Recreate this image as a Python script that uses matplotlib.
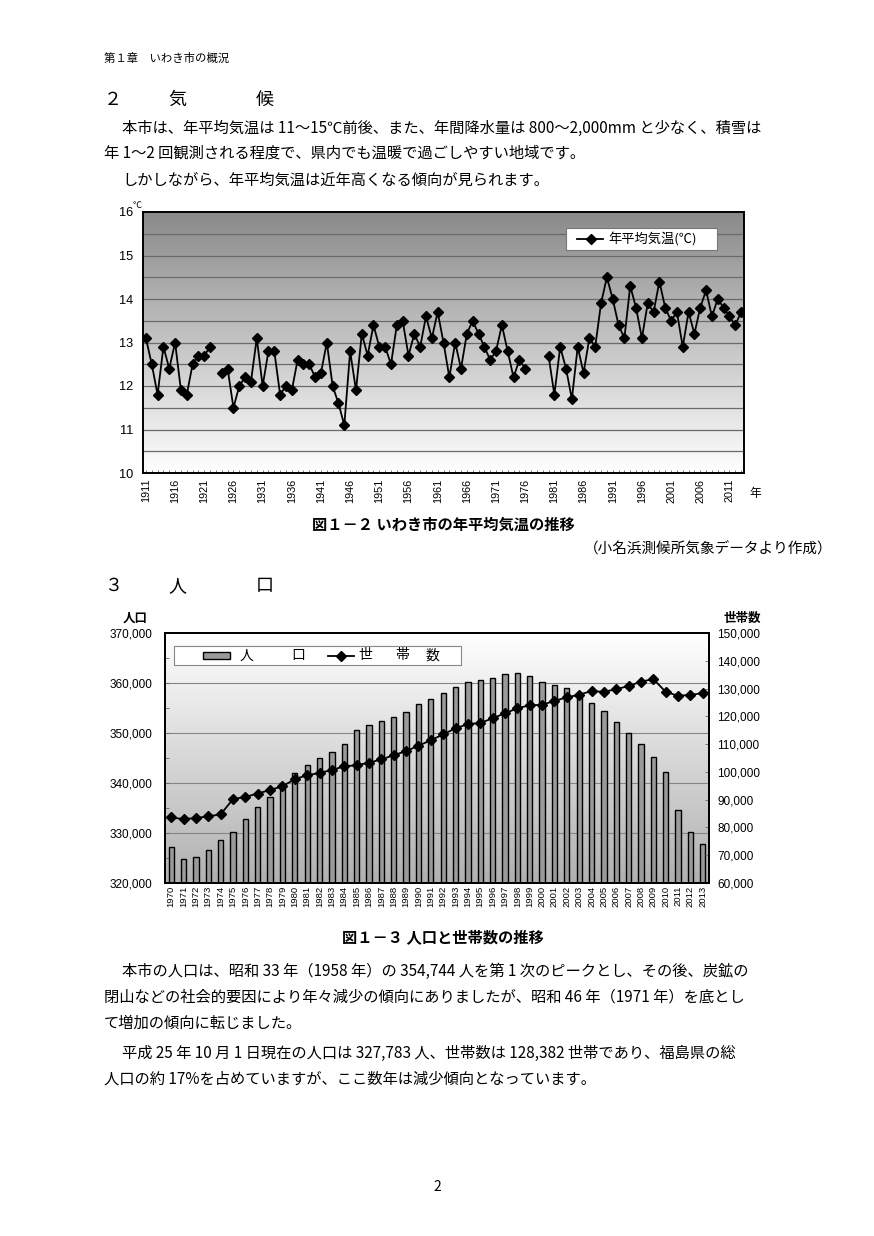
import numpy as np
import matplotlib
matplotlib.use('Agg')
import matplotlib.pyplot as plt
from matplotlib.colors import LinearSegmentedColormap
from matplotlib.lines import Line2D
from matplotlib.patches import Rectangle
from matplotlib.ticker import FuncFormatter, MultipleLocator

plt.rcParams['font.family'] = ['Noto Sans CJK JP', 'DejaVu Sans']
NUMFONT = ['Liberation Sans', 'DejaVu Sans']

# ---------------- data ----------------
temp_years = list(range(1911, 2014))
temp_values = [
    13.1, 12.5, 11.8, 12.9, 12.4, 13.0, 11.9, 11.8, 12.5, 12.7,   # 1911-1920
    12.7, 12.9, None, 12.3, 12.4, 11.5, 12.0, 12.2, 12.1, 13.1,   # 1921-1930
    12.0, 12.8, 12.8, 11.8, 12.0, 11.9, 12.6, 12.5, 12.5, 12.2,   # 1931-1940
    12.3, 13.0, 12.0, 11.6, 11.1, 12.8, 11.9, 13.2, 12.7, 13.4,   # 1941-1950
    12.9, 12.9, 12.5, 13.4, 13.5, 12.7, 13.2, 12.9, 13.6, 13.1,   # 1951-1960
    13.7, 13.0, 12.2, 13.0, 12.4, 13.2, 13.5, 13.2, 12.9, 12.6,   # 1961-1970
    12.8, 13.4, 12.8, 12.2, 12.6, 12.4, None, None, None, 12.7,   # 1971-1980
    11.8, 12.9, 12.4, 11.7, 12.9, 12.3, 13.1, 12.9, 13.9, 14.5,   # 1981-1990
    14.0, 13.4, 13.1, 14.3, 13.8, 13.1, 13.9, 13.7, 14.4, 13.8,   # 1991-2000
    13.5, 13.7, 12.9, 13.7, 13.2, 13.8, 14.2, 13.6, 14.0, 13.8,   # 2001-2010
    13.6, 13.4, 13.7,                                             # 2011-2013
]
temp_xtick_years = list(range(1911, 2012, 5))
temp_yticks = [10, 11, 12, 13, 14, 15, 16]

pop_years = list(range(1970, 2014))
population = [
    327200, 324800, 325200, 326700, 328600, 330300, 332800, 335300, 337300, 338900,
    342100, 343700, 345100, 346300, 347900, 350700, 351600, 352400, 353300, 354300,
    355900, 356800, 358000, 359200, 360200, 360700, 361000, 361800, 362000, 361400,
    360300, 359600, 359100, 358100, 356100, 354500, 352300, 350100, 347800, 345200,
    342200, 334700, 330200, 327783,
]
households = [
    83600, 83000, 83400, 84000, 84700, 90200, 91000, 92200, 93500, 94800,
    97400, 98800, 99600, 100700, 102000, 102400, 103300, 104500, 106000, 107500,
    109400, 111400, 113500, 115700, 117200, 117600, 119300, 121100, 122900, 124000,
    124100, 125600, 126800, 127800, 129100, 128800, 129800, 130900, 132500, 133400,
    128800, 127400, 127700, 128382,
]
pop_ticks = [320000, 330000, 340000, 350000, 360000, 370000]
hh_ticks = list(range(60000, 150001, 10000))

# ---------------- figure ----------------
W, H = 874, 1236
fig = plt.figure(figsize=(W / 100, H / 100), dpi=100)
fig.patch.set_facecolor('white')


def fx(x):
    return x / W


def fy(y):
    return 1 - y / H


def txt(x, y, s, size, ha='left', va='center', weight='normal', family=None, **kw):
    kws = dict(fontsize=size, ha=ha, va=va, weight=weight, **kw)
    if family is not None:
        kws['family'] = family
    fig.text(fx(x), fy(y), s, **kws)


def axes_px(x0, y0, x1, y1):
    return fig.add_axes([fx(x0), fy(y1), (x1 - x0) / W, (y1 - y0) / H])


# ---------------- page text (top) ----------------
txt(104, 58, '第１章　いわき市の概況', 8.2)
txt(104, 100, '２', 13)
txt(168, 100, '気', 13)
txt(256, 100, '候', 13)
txt(122, 128, '本市は、年平均気温は 11～15℃前後、また、年間降水量は 800～2,000mm と少なく、積雪は', 11)
txt(104, 153, '年 1～2 回観測される程度で、県内でも温暖で過ごしやすい地域です。', 11)
txt(122, 180, 'しかしながら、年平均気温は近年高くなる傾向が見られます。', 11)

# ---------------- temperature chart ----------------
ax = axes_px(143, 212, 744, 473)
cmap1 = LinearSegmentedColormap.from_list('g1', ['#ffffff', '#c4c4c4', '#8a8a8a'])
grad = np.linspace(0, 1, 256).reshape(-1, 1)
ax.imshow(grad, extent=[0, 1, 0, 1], transform=ax.transAxes, aspect='auto',
          cmap=cmap1, origin='lower', zorder=0)
for g in np.arange(10.5, 16.0, 0.5):
    ax.axhline(g, color='#6a6a6a', lw=0.9, zorder=1)
tv = np.array([np.nan if v is None else v for v in temp_values], dtype=float)
ax.plot(temp_years, tv, color='black', lw=1.3, marker='D', ms=5.2, zorder=3)
ax.set_xlim(1910.5, 2013.5)
ax.set_ylim(10, 16)
ax.set_yticks(temp_yticks)
ax.set_yticklabels([str(t) for t in temp_yticks], fontsize=9.2, family=NUMFONT)
ax.tick_params(axis='y', length=0, pad=7)
ax.set_xticks(temp_xtick_years)
ax.set_xticklabels([str(y) for y in temp_xtick_years], rotation=90, fontsize=7.8,
                   family=NUMFONT)
ax.xaxis.set_minor_locator(MultipleLocator(1))
ax.tick_params(axis='x', which='both', direction='in', length=2.5, width=0.6,
               color='#666666', pad=4)
for s in ax.spines.values():
    s.set_linewidth(1.4)
    s.set_color('black')
txt(133, 205, '℃', 6.5)
txt(749, 493, '年', 8.5)

# legend (top chart)
fig.add_artist(Rectangle((fx(566), fy(250)), 151 / W, 22 / H, transform=fig.transFigure,
                         facecolor='white', edgecolor='#777777', lw=0.8, zorder=5))
fig.add_artist(Line2D([fx(577), fx(603)], [fy(239), fy(239)], transform=fig.transFigure,
                      color='black', lw=1.3, zorder=6))
fig.add_artist(Line2D([fx(591)], [fy(239)], transform=fig.transFigure, color='black',
                      marker='D', ms=5.2, zorder=6))
txt(608, 239.5, '年平均気温(℃)', 9.5, zorder=6)

txt(443, 525, '図１－２ いわき市の年平均気温の推移', 11, ha='center', weight='bold')
txt(833, 549, '（小名浜測候所気象データより作成）', 10.5, ha='right')

txt(104, 586, '３', 13)
txt(168, 586, '人', 13)
txt(256, 586, '口', 13)

# ---------------- population chart ----------------
ax2 = axes_px(165, 633, 709, 883)
cmap2 = LinearSegmentedColormap.from_list('g2', ['#b0b0b0', '#ffffff'])
ax2.imshow(grad, extent=[0, 1, 0, 1], transform=ax2.transAxes, aspect='auto',
           cmap=cmap2, origin='lower', zorder=0)
for g in pop_ticks[1:-1]:
    ax2.axhline(g, color='#858585', lw=0.8, zorder=1)
ax2.bar(pop_years, population, width=0.42, color='#9a9a9a', edgecolor='black',
        linewidth=1.0, zorder=2)
ax2.set_xlim(1969.5, 2013.5)
ax2.set_ylim(320000, 370000)
ax2.set_yticks(pop_ticks)
ax2.yaxis.set_major_formatter(FuncFormatter(lambda v, p: f'{int(v):,}'))
ax2.yaxis.set_minor_locator(MultipleLocator(5000))
for lab in ax2.get_yticklabels():
    lab.set_fontsize(8.5)
    lab.set_family(NUMFONT)
ax2.tick_params(axis='y', which='both', direction='in', length=3, width=0.6,
                color='#666666', pad=9)
ax2.set_xticks(pop_years)
ax2.set_xticklabels([str(y) for y in pop_years], rotation=90, fontsize=6.8,
                    family=NUMFONT)
ax2.tick_params(axis='x', length=0, pad=2)
for s in ax2.spines.values():
    s.set_linewidth(1.4)
    s.set_color('black')

ax3 = ax2.twinx()
ax3.plot(pop_years, households, color='black', lw=1.3, marker='D', ms=5, zorder=3)
ax3.set_ylim(60000, 150000)
ax3.set_yticks(hh_ticks)
ax3.yaxis.set_major_formatter(FuncFormatter(lambda v, p: f'{int(v):,}'))
for lab in ax3.get_yticklabels():
    lab.set_fontsize(8.5)
    lab.set_family(NUMFONT)
ax3.tick_params(axis='y', direction='in', length=3, width=0.6, color='#666666', pad=6)
for s in ax3.spines.values():
    s.set_linewidth(1.4)
    s.set_color('black')

txt(135, 618, '人口', 9, ha='center', weight='bold')
txt(742, 618, '世帯数', 9, ha='center', weight='bold')

# legend (population chart)
fig.add_artist(Rectangle((fx(174), fy(665)), 287 / W, 19 / H, transform=fig.transFigure,
                         facecolor='white', edgecolor='#888888', lw=0.8, zorder=5))
fig.add_artist(Rectangle((fx(203), fy(659)), 27 / W, 7 / H, transform=fig.transFigure,
                         facecolor='#9a9a9a', edgecolor='black', lw=1.0, zorder=6))
txt(240, 655.5, '人', 10, zorder=6)
txt(291, 655.5, '口', 10, zorder=6)
fig.add_artist(Line2D([fx(328), fx(354)], [fy(655.5), fy(655.5)], transform=fig.transFigure,
                      color='black', lw=1.3, zorder=6))
fig.add_artist(Line2D([fx(341)], [fy(655.5)], transform=fig.transFigure, color='black',
                      marker='D', ms=5, zorder=6))
txt(358, 655.5, '世', 10, zorder=6)
txt(395, 655.5, '帯', 10, zorder=6)
txt(426, 655.5, '数', 10, zorder=6)

txt(443, 937, '図１－３ 人口と世帯数の推移', 11, ha='center', weight='bold')

# ---------------- page text (bottom) ----------------
txt(122, 971, '本市の人口は、昭和 33 年（1958 年）の 354,744 人を第 1 次のピークとし、その後、炭鉱の', 11)
txt(104, 997, '閉山などの社会的要因により年々減少の傾向にありましたが、昭和 46 年（1971 年）を底とし', 11)
txt(104, 1023, 'て増加の傾向に転じました。', 11)
txt(122, 1053, '平成 25 年 10 月 1 日現在の人口は 327,783 人、世帯数は 128,382 世帯であり、福島県の総', 11)
txt(104, 1079, '人口の約 17%を占めていますが、ここ数年は減少傾向となっています。', 11)

txt(437, 1187, '2', 10, ha='center')

fig.savefig('out.png', dpi=100, facecolor='white')
